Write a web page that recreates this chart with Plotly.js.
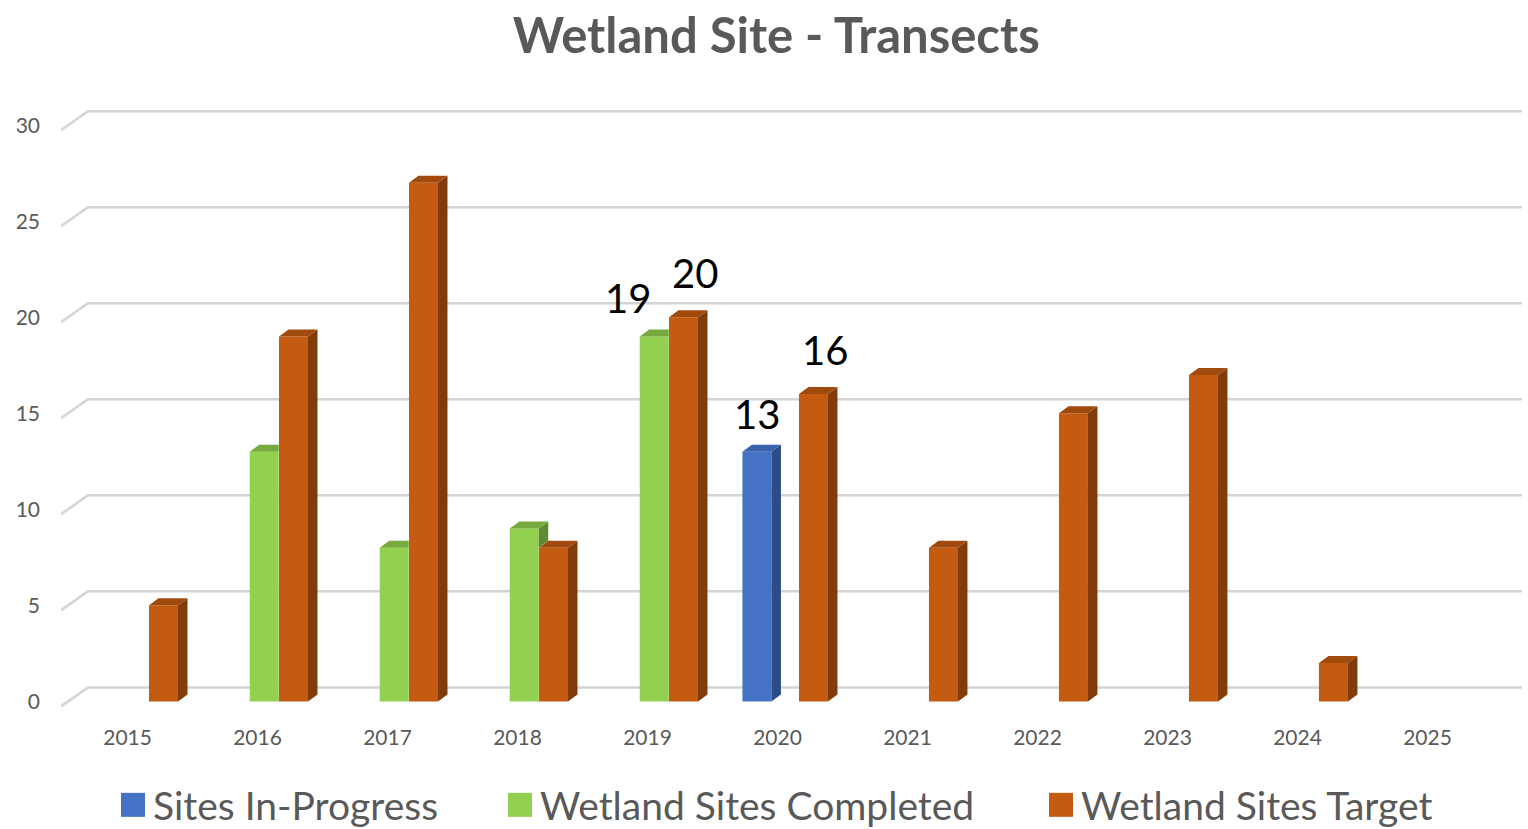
<!DOCTYPE html>
<html>
<head>
<meta charset="utf-8">
<script src="https://cdn.plot.ly/plotly-3.0.1.min.js"></script>
<style>
  html, body { margin: 0; padding: 0; background: #ffffff; }
  #chart { width: 1528px; height: 829px; }
</style>
</head>
<body>
<div id="chart"></div>
<script>
// ---------------- DATA ----------------
const years = ['2015', '2016', '2017', '2018', '2019', '2020', '2021', '2022', '2023', '2024', '2025'];
const sitesInProgress = [null, null, null, null, null, 13, null, null, null, null, null];
const sitesCompleted  = [null, 13, 8, 9, 19, null, null, null, null, null, null];
const sitesTarget     = [5, 19, 27, 8, 20, 16, 8, 15, 17, 2, null];
const yTicks = [0, 5, 10, 15, 20, 25, 30];
const labeledYears = ['2019', '2020'];

// ---------------- STYLE / GEOMETRY ----------------
const FONT = 'Lato, "Open Sans", sans-serif';
const xIdx = years.map((_, i) => i);
const BAR_W = 0.223;
const series = [
  { name: 'Sites In-Progress',       values: sitesInProgress, offset: -0.27,  front: '#4472C4', top: '#3A62AC', side: '#2C4C85', labelShift: 0,   labelLift: 12, legend: 'legend',  legendX: 113 },
  { name: 'Wetland Sites Completed', values: sitesCompleted,  offset: -0.06,  front: '#92D050', top: '#77AA3E', side: '#5F8A32', labelShift: -26, labelLift: 12, legend: 'legend2', legendX: 500 },
  { name: 'Wetland Sites Target',    values: sitesTarget,     offset: 0.165,  front: '#C55A11', top: '#A04A0E', side: '#823C0B', labelShift: 12,  labelLift: 18, legend: 'legend3', legendX: 1041 }
];
const DX = 9.5 / 130;      // depth in x units
const DY = 7 / 19.21;      // depth in y units
const X_MIN = -0.512, X_MAX = 10.727;
const Y_MIN = -0.5, Y_MAX = 31;

const traces = series.map(s => ({
  type: 'bar',
  name: s.name,
  legend: s.legend,
  x: xIdx,
  y: s.values,
  width: BAR_W,
  offset: s.offset,
  marker: { color: s.front, line: { width: 0 } },
  hovertemplate: '%{customdata}: %{y}<extra>' + s.name + '</extra>',
  customdata: years
}));

// 3D faces computed from the data arrays
const shapes = [];
yTicks.forEach(t => {
  const yf = t - 0.26, yb = t + 0.73;
  const xb = X_MIN + 27 / 130;
  shapes.push({
    type: 'path', xref: 'x', yref: 'y', layer: 'below',
    path: `M ${X_MIN},${yf} L ${xb},${yb} L ${X_MAX},${yb}`,
    line: { color: '#D4D4D4', width: 2.5 }
  });
});

function nextBar(si, i) {
  if (si === 1) return sitesTarget[i];
  return null;
}
series.forEach((s, si) => {
  s.values.forEach((v, i) => {
    if (v === null || v === undefined) return;
    const xl = i + s.offset, xr = xl + BAR_W;
    const nv = nextBar(si, i);
    if (nv === null || nv < v) {
      const base = (nv === null) ? 0 : nv;
      shapes.push({
        type: 'path', xref: 'x', yref: 'y', layer: 'above',
        path: `M ${xr},${base} L ${xr + DX},${base + DY} L ${xr + DX},${v + DY} L ${xr},${v} Z`,
        fillcolor: s.side, line: { width: 0 }
      });
    }
    const xTopR = (nv !== null && nv >= v) ? xr : xr + DX;
    shapes.push({
      type: 'path', xref: 'x', yref: 'y', layer: 'above',
      path: `M ${xl},${v} L ${xl + DX},${v + DY} L ${xTopR},${v + DY} L ${xr},${v} Z`,
      fillcolor: s.top, line: { width: 0 }
    });
  });
});

// data labels
const annotations = [];
series.forEach(s => {
  s.values.forEach((v, i) => {
    if (v === null || labeledYears.indexOf(years[i]) < 0) return;
    annotations.push({
      x: i + s.offset + BAR_W / 2, y: v, xref: 'x', yref: 'y',
      text: String(v), showarrow: false,
      xanchor: 'center', yanchor: 'bottom',
      xshift: s.labelShift, yshift: s.labelLift,
      font: { family: FONT, size: 40, color: '#000000' }
    });
  });
});

function legendBox(xpx) {
  return {
    orientation: 'h',
    x: xpx / 1528, xanchor: 'left', xref: 'container',
    y: 1 - 805 / 829, yanchor: 'middle', yref: 'container',
    font: { family: FONT, size: 39, color: '#595959' },
    bgcolor: 'rgba(0,0,0,0)',
    itemclick: false, itemdoubleclick: false
  };
}

const layout = {
  width: 1528, height: 829,
  paper_bgcolor: '#ffffff', plot_bgcolor: '#ffffff',
  margin: { l: 61, r: 6, t: 106, b: 118, pad: 0 },
  font: { family: FONT, color: '#595959' },
  title: {
    text: '<b>Wetland Site - Transects</b>',
    x: 0.508, xanchor: 'center',
    y: 1 - 36 / 829, yanchor: 'middle', yref: 'container',
    font: { family: FONT, size: 49, color: '#595959' }
  },
  barmode: 'overlay',
  xaxis: {
    range: [X_MIN, X_MAX],
    tickmode: 'array', tickvals: xIdx, ticktext: years,
    showgrid: false, zeroline: false, showline: false,
    ticks: '', ticklabelstandoff: 12,
    tickfont: { family: FONT, size: 21, color: '#595959' },
    fixedrange: true
  },
  yaxis: {
    range: [Y_MIN, Y_MAX],
    tickmode: 'array', tickvals: yTicks,
    showgrid: false, zeroline: false, showline: false,
    ticks: '', ticklabelstandoff: 20,
    tickfont: { family: FONT, size: 21, color: '#595959' },
    fixedrange: true
  },
  legend:  legendBox(series[0].legendX),
  legend2: legendBox(series[1].legendX),
  legend3: legendBox(series[2].legendX),
  shapes: shapes,
  annotations: annotations,
  showlegend: true
};

Plotly.newPlot('chart', traces, layout, { displayModeBar: false }).then(gd => {
  // enlarge the legend swatches to match the reference's large square keys
  gd.querySelectorAll('.legendpoints path').forEach(p => {
    const t = p.getAttribute('transform') || '';
    p.setAttribute('transform', t + ' scale(2)');
  });
});
</script>
</body>
</html>
